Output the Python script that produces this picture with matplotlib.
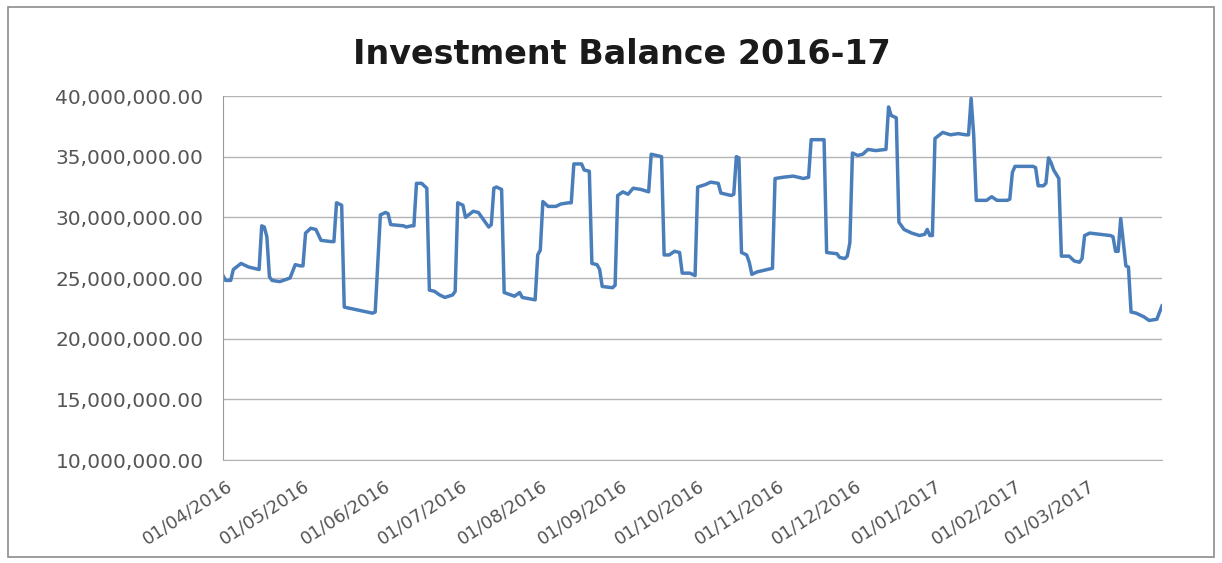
import matplotlib
matplotlib.use("Agg")
import matplotlib.pyplot as plt
import matplotlib.dates as mdates
import matplotlib.transforms as mtransforms
from matplotlib.patches import Rectangle
from matplotlib.ticker import FuncFormatter
import pandas as pd

# balance (millions), dates of visible vertices
dates = [
    "2016-04-01", "2016-04-02", "2016-04-04", "2016-04-05", "2016-04-08", "2016-04-11",
    "2016-04-15", "2016-04-16", "2016-04-17", "2016-04-18", "2016-04-19", "2016-04-20",
    "2016-04-23", "2016-04-27", "2016-04-29", "2016-05-01", "2016-05-02", "2016-05-03",
    "2016-05-05", "2016-05-07", "2016-05-09", "2016-05-13", "2016-05-14", "2016-05-15",
    "2016-05-17", "2016-05-18", "2016-05-29", "2016-05-30", "2016-06-01", "2016-06-03",
    "2016-06-04", "2016-06-05", "2016-06-10", "2016-06-11", "2016-06-13", "2016-06-14",
    "2016-06-15", "2016-06-17", "2016-06-19", "2016-06-20", "2016-06-22", "2016-06-24",
    "2016-06-26", "2016-06-29", "2016-06-30", "2016-07-01", "2016-07-03", "2016-07-04",
    "2016-07-07", "2016-07-09", "2016-07-11", "2016-07-13", "2016-07-14", "2016-07-15",
    "2016-07-16", "2016-07-18", "2016-07-19", "2016-07-23", "2016-07-25", "2016-07-26",
    "2016-07-31", "2016-08-01", "2016-08-02", "2016-08-03", "2016-08-05", "2016-08-08",
    "2016-08-10", "2016-08-13", "2016-08-14", "2016-08-15", "2016-08-18", "2016-08-19",
    "2016-08-21", "2016-08-22", "2016-08-24", "2016-08-25", "2016-08-26", "2016-08-30",
    "2016-08-31", "2016-09-01", "2016-09-03", "2016-09-05", "2016-09-07", "2016-09-10",
    "2016-09-13", "2016-09-14", "2016-09-18", "2016-09-19", "2016-09-21", "2016-09-23",
    "2016-09-25", "2016-09-26", "2016-09-29", "2016-10-01", "2016-10-02", "2016-10-05",
    "2016-10-07", "2016-10-10", "2016-10-11", "2016-10-15", "2016-10-16", "2016-10-17",
    "2016-10-18", "2016-10-19", "2016-10-21", "2016-10-22", "2016-10-23", "2016-10-25",
    "2016-10-29", "2016-10-31", "2016-11-01", "2016-11-04", "2016-11-08", "2016-11-12",
    "2016-11-14", "2016-11-15", "2016-11-20", "2016-11-21", "2016-11-25", "2016-11-26",
    "2016-11-28", "2016-11-29", "2016-11-30", "2016-12-01", "2016-12-03", "2016-12-05",
    "2016-12-07", "2016-12-10", "2016-12-14", "2016-12-15", "2016-12-16", "2016-12-18",
    "2016-12-19", "2016-12-21", "2016-12-24", "2016-12-27", "2016-12-29", "2016-12-30",
    "2016-12-31", "2017-01-01", "2017-01-02", "2017-01-05", "2017-01-08", "2017-01-11",
    "2017-01-14", "2017-01-15", "2017-01-16", "2017-01-17", "2017-01-18", "2017-01-22",
    "2017-01-24", "2017-01-26", "2017-01-30", "2017-01-31", "2017-02-01", "2017-02-02",
    "2017-02-05", "2017-02-09", "2017-02-10", "2017-02-11", "2017-02-13", "2017-02-14",
    "2017-02-15", "2017-02-16", "2017-02-17", "2017-02-19", "2017-02-20", "2017-02-23",
    "2017-02-25", "2017-02-27", "2017-02-28", "2017-03-01", "2017-03-03", "2017-03-07",
    "2017-03-11", "2017-03-12", "2017-03-13", "2017-03-14", "2017-03-15", "2017-03-17",
    "2017-03-18", "2017-03-19", "2017-03-21", "2017-03-24", "2017-03-26", "2017-03-29",
    "2017-03-31",
]
balance_m = [
    25.2, 24.8, 24.8, 25.7, 26.2, 25.9,
    25.7, 29.3, 29.2, 28.4, 25.1, 24.8,
    24.7, 25.0, 26.1, 26.0, 26.0, 28.7,
    29.1, 29.0, 28.1, 28.0, 28.0, 31.2,
    31.0, 22.6, 22.1, 22.2, 30.2, 30.4,
    30.3, 29.4, 29.3, 29.2, 29.3, 29.3,
    32.8, 32.8, 32.4, 24.0, 23.9, 23.6,
    23.4, 23.6, 23.9, 31.2, 31.0, 30.0,
    30.5, 30.4, 29.8, 29.2, 29.4, 32.4,
    32.5, 32.3, 23.8, 23.5, 23.8, 23.4,
    23.2, 26.9, 27.3, 31.3, 30.9, 30.9,
    31.1, 31.2, 31.2, 34.4, 34.4, 33.9,
    33.8, 26.2, 26.1, 25.7, 24.3, 24.2,
    24.4, 31.8, 32.1, 31.9, 32.4, 32.3,
    32.1, 35.2, 35.0, 26.9, 26.9, 27.2,
    27.1, 25.4, 25.4, 25.2, 32.5, 32.7,
    32.9, 32.8, 32.0, 31.8, 31.9, 35.0,
    34.9, 27.1, 26.9, 26.3, 25.3, 25.5,
    25.7, 25.8, 33.2, 33.3, 33.4, 33.2,
    33.3, 36.4, 36.4, 27.1, 27.0, 26.7,
    26.6, 26.8, 27.9, 35.3, 35.1, 35.2,
    35.6, 35.5, 35.6, 39.1, 38.4, 38.2,
    29.6, 29.0, 28.7, 28.5, 28.6, 29.0,
    28.5, 28.5, 36.5, 37.0, 36.8, 36.9,
    36.8, 36.8, 39.8, 36.8, 31.4, 31.4,
    31.7, 31.4, 31.4, 31.5, 33.7, 34.2,
    34.2, 34.2, 34.1, 32.6, 32.6, 32.8,
    34.9, 34.5, 33.9, 33.2, 26.8, 26.8,
    26.4, 26.3, 26.6, 28.5, 28.7, 28.6,
    28.5, 28.4, 27.2, 27.2, 29.9, 26.0,
    25.9, 22.2, 22.1, 21.8, 21.5, 21.6,
    22.7,
]
month_ticks = pd.date_range("2016-04-01", "2017-03-01", freq="MS")

x = pd.to_datetime(dates)
y = [v * 1e6 for v in balance_m]

plt.rcParams["font.family"] = ["DejaVu Sans"]

fig = plt.figure(figsize=(12.22, 5.63), dpi=100)
ax = fig.add_axes([223 / 1222, 1 - 460 / 563, (1162 - 223) / 1222, (460 - 96) / 563])

# chart border
fig.patches.append(Rectangle((8 / 1222, 6 / 563), 1206 / 1222, 550 / 563,
                             transform=fig.transFigure, fill=False,
                             edgecolor="#8c8c8c", linewidth=1.2))

ax.plot(x, y, color="#4a7ebb", linewidth=2.5, solid_joinstyle="round")

ax.set_ylim(10e6, 40e6)
ax.set_yticks(range(10000000, 40000001, 5000000))
ax.yaxis.set_major_formatter(FuncFormatter(lambda v, p: f"{v:,.2f}"))
ax.set_xlim(pd.Timestamp("2016-04-01"), pd.Timestamp("2017-03-31"))
ax.set_xticks(month_ticks)
ax.xaxis.set_major_formatter(mdates.DateFormatter("%d/%m/%Y"))

ax.grid(axis="y", color="#b4b4b4", linewidth=1)
ax.set_axisbelow(True)
for s in ["top", "right"]:
    ax.spines[s].set_visible(False)
ax.spines["left"].set_color("#9a9a9a")
ax.spines["bottom"].set_color("#b4b4b4")
ax.tick_params(axis="both", length=0, labelcolor="#555555")
ax.tick_params(axis="y", pad=14, labelsize=14.5)
ax.tick_params(axis="x", pad=12, labelsize=13)

shift = mtransforms.ScaledTranslation(3 / 100, 0, fig.dpi_scale_trans)
for lab in ax.get_xticklabels():
    lab.set_rotation(33)
    lab.set_ha("right")
    lab.set_rotation_mode("anchor")
    lab.set_transform(lab.get_transform() + shift)

fig.text(622 / 1222, 1 - 55 / 563, "Investment Balance 2016-17", ha="center", va="center",
         fontsize=24, fontweight="bold", color="#1a1a1a")

fig.savefig("out.png", dpi=100)
